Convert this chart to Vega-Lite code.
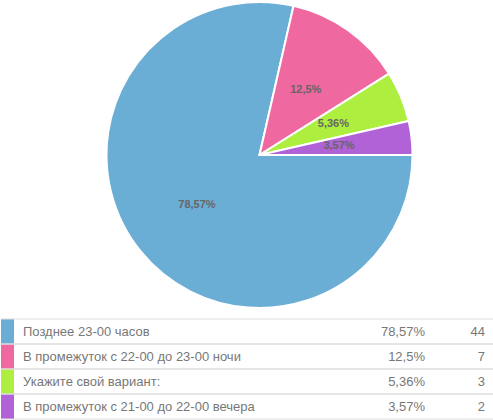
{
  "$schema": "https://vega.github.io/schema/vega-lite/v6.json",
  "padding": 0,
  "autosize": {"type": "pad"},
  "spacing": 9,
  "bounds": "flush",
  "config": {"view": {"stroke": null}, "font": "Liberation Sans"},
  "data": {"values": [
    {"idx": 1, "label": "Позднее 23-00 часов", "pct": "78,57%", "count": 44},
    {"idx": 2, "label": "В промежуток с 22-00 до 23-00 ночи", "pct": "12,5%", "count": 7},
    {"idx": 3, "label": "Укажите свой вариант:", "pct": "5,36%", "count": 3},
    {"idx": 4, "label": "В промежуток с 21-00 до 22-00 вечера", "pct": "3,57%", "count": 2}
  ]},
  "vconcat": [
    {
      "width": 493,
      "height": 310,
      "encoding": {
        "theta": {"field": "count", "type": "quantitative", "stack": true, "scale": {"range": [1.5707963, 7.8539816]}},
        "order": {"field": "idx", "type": "quantitative"},
        "color": {"field": "label", "type": "nominal", "sort": null, "legend": null,
          "scale": {"range": ["#6aaed6", "#f068a0", "#aeee3e", "#b062d6"]}}
      },
      "layer": [
        {"mark": {"type": "arc", "outerRadius": 153, "stroke": "white", "strokeWidth": 2, "strokeJoin": "round", "xOffset": 12}},
        {"mark": {"type": "text", "radius": 80, "xOffset": 12, "fontWeight": "bold", "fontSize": 11},
         "encoding": {"text": {"field": "pct"}, "color": {"value": "#666666"}}}
      ]
    },
    {
      "width": 493,
      "height": 100,
      "encoding": {
        "y": {"field": "label", "type": "nominal", "sort": null, "axis": null, "scale": {"paddingInner": 0, "paddingOuter": 0}}
      },
      "layer": [
        {"mark": {"type": "rect", "x": 0, "x2": 13},
         "encoding": {"color": {"field": "label", "type": "nominal", "sort": null, "legend": null,
           "scale": {"range": ["#6aaed6", "#f068a0", "#aeee3e", "#b062d6"]}}}},
        {"mark": {"type": "rule", "x": 0, "x2": 493, "color": "#dddddd", "strokeWidth": 1},
         "encoding": {"y": {"field": "label", "type": "nominal", "sort": null, "bandPosition": 0}}},
        {"mark": {"type": "rule", "x": 0, "x2": 493, "color": "#dddddd", "strokeWidth": 1},
         "encoding": {"y": {"field": "label", "type": "nominal", "sort": null, "bandPosition": 1}}},
        {"mark": {"type": "text", "x": 22, "align": "left", "baseline": "middle", "fontSize": 13, "color": "#777777"},
         "encoding": {"text": {"field": "label"}}},
        {"mark": {"type": "text", "x": 424, "align": "right", "baseline": "middle", "fontSize": 13, "color": "#777777"},
         "encoding": {"text": {"field": "pct"}}},
        {"mark": {"type": "text", "x": 484, "align": "right", "baseline": "middle", "fontSize": 13, "color": "#777777"},
         "encoding": {"text": {"field": "count"}}}
      ]
    }
  ]
}
